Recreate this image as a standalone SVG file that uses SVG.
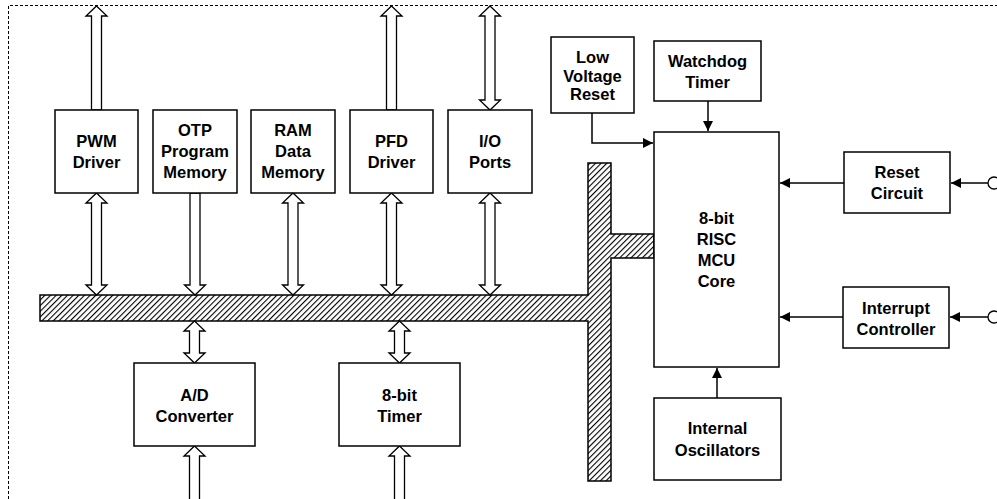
<svg xmlns="http://www.w3.org/2000/svg" width="997" height="499" viewBox="0 0 997 499">
<style>
.box{fill:#fff;stroke:#000;stroke-width:1.5}
.blk{fill:#fff;stroke:#000;stroke-width:1.3;stroke-linejoin:miter}
.ln{fill:none;stroke:#000;stroke-width:1.5}
text{font-family:"Liberation Sans",Arial,sans-serif;font-weight:bold;font-size:16.5px;text-anchor:middle;fill:#000}
</style>
<defs>
<pattern id="hatch" width="4" height="4" patternUnits="userSpaceOnUse" patternTransform="rotate(45)">
<line x1="0.5" y1="-1" x2="0.5" y2="5" stroke="#000" stroke-width="1.2"/>
</pattern>
<marker id="ah" viewBox="0 0 10 10" refX="10" refY="5" markerWidth="11" markerHeight="10" markerUnits="userSpaceOnUse" orient="auto"><path d="M0,0 L10,5 L0,10 Z" fill="#000"/></marker>
</defs>
<rect width="997" height="499" fill="#fff"/>
<path d="M8.5,499 V5.5 H997" fill="none" stroke="#000" stroke-width="1" stroke-dasharray="3,2"/>

<g id="connectors">
<path class="blk" d="M96.5,6 L107,16 L101.5,16 L101.5,110 L91.5,110 L91.5,16 L86,16 Z"/>
<path class="blk" d="M96.5,193 L107,203 L101.5,203 L101.5,285 L107,285 L96.5,295 L86,285 L91.5,285 L91.5,203 L86,203 Z"/>
<path class="blk" d="M190,193 L200,193 L200,285 L205.5,285 L195,295 L184.5,285 L190,285 Z"/>
<path class="blk" d="M293,193 L303.5,203 L298,203 L298,285 L303.5,285 L293,295 L282.5,285 L288,285 L288,203 L282.5,203 Z"/>
<path class="blk" d="M391.5,6 L402,16 L396.5,16 L396.5,110 L386.5,110 L386.5,16 L381,16 Z"/>
<path class="blk" d="M391.5,193 L402,203 L396.5,203 L396.5,285 L402,285 L391.5,295 L381,285 L386.5,285 L386.5,203 L381,203 Z"/>
<path class="blk" d="M490,6 L500.5,16 L495,16 L495,100 L500.5,100 L490,110 L479.5,100 L485,100 L485,16 L479.5,16 Z"/>
<path class="blk" d="M490,193 L500.5,203 L495,203 L495,285 L500.5,285 L490,295 L479.5,285 L485,285 L485,203 L479.5,203 Z"/>
<path class="blk" d="M194.5,321 L205,331 L199.5,331 L199.5,353 L205,353 L194.5,363 L184,353 L189.5,353 L189.5,331 L184,331 Z"/>
<path class="blk" d="M194.5,446 L205,456 L199.5,456 L199.5,501 L189.5,501 L189.5,456 L184,456 Z"/>
<path class="blk" d="M399.5,321 L410,331 L404.5,331 L404.5,353 L410,353 L399.5,363 L389,353 L394.5,353 L394.5,331 L389,331 Z"/>
<path class="blk" d="M399.5,446 L410,456 L404.5,456 L404.5,501 L394.5,501 L394.5,456 L389,456 Z"/>
<path d="M40,295 H588 V163 H611 V234 H654 V258 H611 V481 H588 V321 H40 Z" fill="url(#hatch)" stroke="#000" stroke-width="1.5"/>
<path class="ln" d="M592,113 V143 H653" marker-end="url(#ah)"/>
<path class="ln" d="M708,101 V131" marker-end="url(#ah)"/>
<path class="ln" d="M844,183 H780" marker-end="url(#ah)"/>
<path class="ln" d="M988,183 H951" marker-end="url(#ah)"/>
<path class="ln" d="M843,317 H780" marker-end="url(#ah)"/>
<path class="ln" d="M988,317 H950" marker-end="url(#ah)"/>
<path class="ln" d="M717,398 V368" marker-end="url(#ah)"/>
<circle cx="994" cy="183" r="6" fill="#fff" stroke="#000" stroke-width="1.3"/>
<circle cx="994" cy="317" r="6" fill="#fff" stroke="#000" stroke-width="1.3"/>
</g>

<g id="pwm"><rect class="box" x="55" y="110" width="83" height="83"/><text x="96.5" y="147">PWM</text><text x="96.5" y="168">Driver</text></g>
<g id="otp"><rect class="box" x="153" y="110" width="84" height="83"/><text x="195" y="136">OTP</text><text x="195" y="157">Program</text><text x="195" y="178">Memory</text></g>
<g id="ram"><rect class="box" x="251" y="110" width="84" height="83"/><text x="293" y="136">RAM</text><text x="293" y="157">Data</text><text x="293" y="178">Memory</text></g>
<g id="pfd"><rect class="box" x="350" y="110" width="83" height="83"/><text x="391.5" y="147">PFD</text><text x="391.5" y="168">Driver</text></g>
<g id="io"><rect class="box" x="448" y="110" width="84" height="83"/><text x="490" y="147">I/O</text><text x="490" y="168">Ports</text></g>
<g id="lvr"><rect class="box" x="551" y="37" width="83" height="76"/><text x="592.5" y="63">Low</text><text x="592.5" y="82">Voltage</text><text x="592.5" y="100">Reset</text></g>
<g id="wdt"><rect class="box" x="654" y="41" width="107" height="60"/><text x="707.5" y="67">Watchdog</text><text x="707.5" y="88">Timer</text></g>
<g id="mcu"><rect class="box" x="654" y="132" width="125" height="235"/><text x="716.5" y="224">8-bit</text><text x="716.5" y="245">RISC</text><text x="716.5" y="266">MCU</text><text x="716.5" y="287">Core</text></g>
<g id="reset"><rect class="box" x="844" y="152" width="106" height="61"/><text x="897" y="178">Reset</text><text x="897" y="199">Circuit</text></g>
<g id="intc"><rect class="box" x="843" y="287" width="106" height="61"/><text x="896" y="314">Interrupt</text><text x="896" y="335">Controller</text></g>
<g id="osc"><rect class="box" x="654" y="398" width="127" height="82"/><text x="717.5" y="434">Internal</text><text x="717.5" y="456">Oscillators</text></g>
<g id="adc"><rect class="box" x="134" y="363" width="121" height="83"/><text x="194.5" y="401">A/D</text><text x="194.5" y="422">Converter</text></g>
<g id="timer"><rect class="box" x="339" y="363" width="121" height="83"/><text x="399.5" y="401">8-bit</text><text x="399.5" y="422">Timer</text></g>
</svg>
